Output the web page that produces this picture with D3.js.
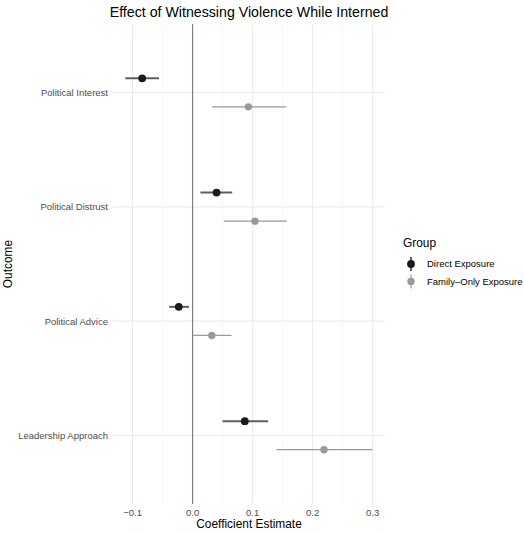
<!DOCTYPE html>
<html>
<head>
<meta charset="utf-8">
<script src="https://cdn.jsdelivr.net/npm/d3@7"></script>
<style>
  body { margin: 0; background: #fff; }
  text { font-family: "Liberation Sans", Arial, sans-serif; }
</style>
</head>
<body>
<svg id="chart" width="524" height="533"></svg>
<script>
// outcomes, top to bottom
var outcomes = ["Political Interest", "Political Distrust", "Political Advice", "Leadership Approach"];
var groups = ["Direct Exposure", "Family\u2013Only Exposure"];

// estimates and confidence bounds, one value per outcome
var directEst  = [-0.084, 0.040, -0.023, 0.087];
var directLow  = [-0.112, 0.013, -0.039, 0.050];
var directHigh = [-0.056, 0.066, -0.006, 0.126];
var familyEst  = [0.093, 0.104, 0.032, 0.219];
var familyLow  = [0.032, 0.052, 0.001, 0.140];
var familyHigh = [0.156, 0.157, 0.065, 0.300];

var xTicks = [-0.1, 0, 0.1, 0.2, 0.3];
var xMinor = [-0.05, 0.05, 0.15, 0.25];

var rows = [];
outcomes.forEach(function(o, i) {
    rows.push({outcome: o, group: groups[0], est: directEst[i], lo: directLow[i], hi: directHigh[i]});
    rows.push({outcome: o, group: groups[1], est: familyEst[i], lo: familyLow[i], hi: familyHigh[i]});
});

var panel = {left: 113, right: 385, top: 24, bottom: 504};
var svg = d3.select("#chart");

var lo = d3.min(rows, d => d.lo), hi = d3.max(rows, d => d.hi);
var pad = (hi - lo) * 0.05;
var x = d3.scaleLinear()
    .domain([lo - pad, hi + pad])
    .range([panel.left, panel.right]);

// discrete axis with ggplot-like 0.6 expansion
var y = d3.scaleLinear()
    .domain([-0.6, outcomes.length - 1 + 0.6])
    .range([panel.top, panel.bottom]);
var dodge = {};
dodge[groups[0]] = -0.125;
dodge[groups[1]] = 0.125;

var style = {};
style[groups[0]] = {point: "#1a1a1a", line: "#5e5e5e", width: 2, r: 3.9};
style[groups[1]] = {point: "#999999", line: "#999999", width: 1.2, r: 3.7};

var g = svg.append("g");

// minor gridlines
g.selectAll("line.minor").data(xMinor).enter().append("line")
    .attr("x1", d => x(d)).attr("x2", d => x(d))
    .attr("y1", panel.top).attr("y2", panel.bottom)
    .attr("stroke", "#f2f2f2").attr("stroke-width", 0.6);
// major gridlines
g.selectAll("line.majorx").data(xTicks).enter().append("line")
    .attr("x1", d => x(d)).attr("x2", d => x(d))
    .attr("y1", panel.top).attr("y2", panel.bottom)
    .attr("stroke", "#ebebeb").attr("stroke-width", 1.1);
g.selectAll("line.majory").data(outcomes).enter().append("line")
    .attr("x1", panel.left).attr("x2", panel.right)
    .attr("y1", (d, i) => y(i)).attr("y2", (d, i) => y(i))
    .attr("stroke", "#ebebeb").attr("stroke-width", 1.1);

// zero reference line
g.append("line")
    .attr("x1", x(0)).attr("x2", x(0))
    .attr("y1", panel.top).attr("y2", panel.bottom)
    .attr("stroke", "#808080").attr("stroke-width", 1.2);

// intervals and points
var marks = g.selectAll("g.mark").data(rows).enter().append("g");
marks.append("line")
    .attr("x1", d => x(d.lo)).attr("x2", d => x(d.hi))
    .attr("y1", d => y(outcomes.indexOf(d.outcome) + dodge[d.group]))
    .attr("y2", d => y(outcomes.indexOf(d.outcome) + dodge[d.group]))
    .attr("stroke", d => style[d.group].line)
    .attr("stroke-width", d => style[d.group].width);
marks.append("circle")
    .attr("cx", d => x(d.est))
    .attr("cy", d => y(outcomes.indexOf(d.outcome) + dodge[d.group]))
    .attr("r", d => style[d.group].r)
    .attr("fill", d => style[d.group].point);

// axis tick labels
g.selectAll("text.xt").data(xTicks).enter().append("text")
    .attr("x", d => x(d)).attr("y", 516)
    .attr("text-anchor", "middle")
    .attr("font-size", 9.5).attr("fill", "#4d4d4d")
    .text(d => d3.format(".1f")(d).replace("-", "\u2212"));
g.selectAll("text.yt").data(outcomes).enter().append("text")
    .attr("x", 108).attr("y", (d, i) => y(i) + 3.4)
    .attr("text-anchor", "end")
    .attr("font-size", 9.5).attr("fill", "#4d4d4d")
    .text(d => d);

// titles
svg.append("text")
    .attr("x", (panel.left + panel.right) / 2).attr("y", 17)
    .attr("text-anchor", "middle").attr("font-size", 14.2).attr("fill", "#000")
    .text("Effect of Witnessing Violence While Interned");
svg.append("text")
    .attr("x", (panel.left + panel.right) / 2).attr("y", 528)
    .attr("text-anchor", "middle").attr("font-size", 11.9).attr("fill", "#000")
    .text("Coefficient Estimate");
svg.append("text")
    .attr("transform", "translate(12," + ((panel.top + panel.bottom) / 2) + ") rotate(-90)")
    .attr("text-anchor", "middle").attr("font-size", 11.9).attr("fill", "#000")
    .text("Outcome");

// legend
var legend = svg.append("g").attr("transform", "translate(403,0)");
legend.append("text").attr("x", 0).attr("y", 247)
    .attr("font-size", 11.9).attr("fill", "#000").text("Group");
var keys = legend.selectAll("g.key").data(groups).enter().append("g")
    .attr("transform", (d, i) => "translate(8," + (264 + i * 17.5) + ")");
keys.append("line")
    .attr("y1", -7).attr("y2", 7)
    .attr("stroke", d => style[d].line)
    .attr("stroke-width", d => style[d].width);
keys.append("circle")
    .attr("r", d => style[d].r)
    .attr("fill", d => style[d].point);
keys.append("text")
    .attr("x", 16).attr("y", 3.4)
    .attr("font-size", 9.5).attr("fill", "#000")
    .text(d => d);
</script>
</body>
</html>
